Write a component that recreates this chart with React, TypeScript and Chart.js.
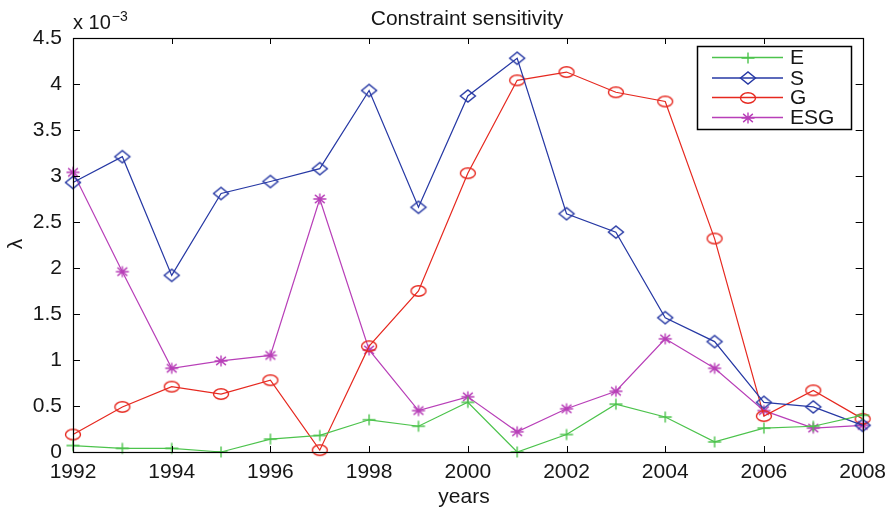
import React, { useEffect, useRef } from "react";
import { Chart, registerables } from "chart.js";

Chart.register(...registerables);

// Lagrange multipliers per year, in units of 1e-3
const years = [1992, 1993, 1994, 1995, 1996, 1997, 1998, 1999, 2000, 2001, 2002, 2003, 2004, 2005, 2006, 2007, 2008];
const seriesE = [0.07, 0.04, 0.04, 0.0, 0.14, 0.18, 0.35, 0.28, 0.54, 0.0, 0.19, 0.52, 0.38, 0.11, 0.26, 0.28, 0.4];
const seriesS = [2.93, 3.21, 1.92, 2.81, 2.94, 3.08, 3.93, 2.66, 3.87, 4.28, 2.59, 2.39, 1.46, 1.2, 0.54, 0.49, 0.29];
const seriesG = [0.19, 0.49, 0.71, 0.63, 0.78, 0.02, 1.15, 1.75, 3.03, 4.04, 4.13, 3.91, 3.81, 2.32, 0.39, 0.67, 0.36];
const seriesESG = [3.04, 1.96, 0.91, 0.99, 1.05, 2.75, 1.11, 0.45, 0.6, 0.22, 0.47, 0.66, 1.23, 0.91, 0.45, 0.26, 0.29];

const seriesNames = ["E", "S", "G", "ESG"];
const seriesColors = ["#4cc34c", "#2638a4", "#e6281f", "#b83fb8"];
const seriesMarkers = ["plus", "diamond", "ellipse", "star"];

const FONT = "'Liberation Sans', Arial, Helvetica, sans-serif";
const INK = "#161616";

// marker sprites, slightly wider than tall
function makeMarker(kind: string, color: string): HTMLCanvasElement {
  const W = 20, H = 16;
  const c = document.createElement("canvas");
  c.width = W;
  c.height = H;
  const ctx = c.getContext("2d")!;
  const cx = W / 2, cy = H / 2;
  const rx = 7.5, ry = 6;
  ctx.strokeStyle = color;
  ctx.lineWidth = 1.4;
  ctx.beginPath();
  if (kind === "plus" || kind === "star") {
    const px = 6.5, py = 5.5;
    ctx.moveTo(cx - px, cy);
    ctx.lineTo(cx + px, cy);
    ctx.moveTo(cx, cy - py);
    ctx.lineTo(cx, cy + py);
    if (kind === "star") {
      const dx = px * 0.75, dy = py * 0.75;
      ctx.moveTo(cx - dx, cy - dy);
      ctx.lineTo(cx + dx, cy + dy);
      ctx.moveTo(cx - dx, cy + dy);
      ctx.lineTo(cx + dx, cy - dy);
    }
  } else if (kind === "diamond") {
    ctx.moveTo(cx - rx, cy);
    ctx.lineTo(cx, cy - ry);
    ctx.lineTo(cx + rx, cy);
    ctx.lineTo(cx, cy + ry);
    ctx.closePath();
  } else {
    ctx.ellipse(cx, cy, rx, ry - 0.8, 0, 0, Math.PI * 2);
  }
  ctx.stroke();
  return c;
}

export default function App() {
  const ref = useRef<HTMLCanvasElement>(null);
  useEffect(() => {
    document.body.style.margin = "0";
    const sprites = seriesMarkers.map((m, i) => makeMarker(m, seriesColors[i]));

    const decorations = {
      id: "decorations",
      afterDraw(chart: any) {
        const { ctx, chartArea: a, scales } = chart;
        const xs = scales.x;
        const ys = scales.y;
        ctx.save();
        ctx.strokeStyle = "#000";
        ctx.lineWidth = 1.2;
        // axes box
        ctx.strokeRect(Math.round(a.left) + 0.5, Math.round(a.top) + 0.5, Math.round(a.right - a.left), Math.round(a.bottom - a.top));
        // inward ticks on all four sides
        ctx.lineWidth = 1;
        ctx.beginPath();
        xs.ticks.forEach((t: any) => {
          const px = Math.round(xs.getPixelForValue(t.value)) + 0.5;
          ctx.moveTo(px, a.bottom);
          ctx.lineTo(px, a.bottom - 6);
          ctx.moveTo(px, a.top);
          ctx.lineTo(px, a.top + 6);
        });
        ys.ticks.forEach((t: any) => {
          const py = Math.round(ys.getPixelForValue(t.value)) + 0.5;
          ctx.moveTo(a.left, py);
          ctx.lineTo(a.left + 7, py);
          ctx.moveTo(a.right, py);
          ctx.lineTo(a.right - 7, py);
        });
        ctx.stroke();

        ctx.fillStyle = INK;
        // title
        ctx.font = `21px ${FONT}`;
        ctx.textAlign = "center";
        ctx.textBaseline = "alphabetic";
        ctx.fillText("Constraint sensitivity", 467, 25);
        // x-axis label
        ctx.fillText("years", 464, 503);
        // exponent
        ctx.textAlign = "left";
        ctx.font = `20px ${FONT}`;
        ctx.fillText("x 10", a.left, 29);
        const w = ctx.measureText("x 10").width;
        ctx.font = `14px ${FONT}`;
        ctx.fillText("\u22123", a.left + w + 1, 21);
        // y-axis label
        ctx.save();
        ctx.translate(22, 244);
        ctx.rotate(-Math.PI / 2);
        ctx.textAlign = "center";
        ctx.font = `21px ${FONT}`;
        ctx.fillText("\u03bb", 0, 0);
        ctx.restore();

        // legend
        const lx = 697.5, ly = 46.5, lw = 154, lh = 83;
        ctx.fillStyle = "#fff";
        ctx.fillRect(lx, ly, lw, lh);
        ctx.strokeStyle = "#000";
        ctx.lineWidth = 1.5;
        ctx.strokeRect(lx, ly, lw, lh);
        const rowsY = [57.5, 78, 97.5, 117.5];
        seriesNames.forEach((name, i) => {
          const y = rowsY[i];
          ctx.strokeStyle = seriesColors[i];
          ctx.lineWidth = 1.6;
          ctx.beginPath();
          ctx.moveTo(712, y);
          ctx.lineTo(783, y);
          ctx.stroke();
          const s = sprites[i];
          ctx.drawImage(s, Math.round(747.5 - s.width / 2), Math.round(y - s.height / 2));
          ctx.fillStyle = INK;
          ctx.font = `21px ${FONT}`;
          ctx.textAlign = "left";
          ctx.textBaseline = "middle";
          ctx.fillText(name, 790, y + 1);
        });
        ctx.restore();
      },
    };

    const all = [seriesE, seriesS, seriesG, seriesESG];
    const chart = new Chart(ref.current!, {
      type: "line",
      data: {
        labels: years,
        datasets: all.map((vals, i) => ({
          label: seriesNames[i],
          data: vals.map((v, j) => ({ x: years[j], y: v })),
          borderColor: seriesColors[i],
          backgroundColor: "rgba(0,0,0,0)",
          borderWidth: 1.2,
          pointStyle: sprites[i] as any,
          pointRadius: 6,
          tension: 0,
          fill: false,
          clip: false as any,
        })),
      },
      options: {
        animation: false,
        responsive: false,
        maintainAspectRatio: false,
        layout: { padding: { top: 38, right: 31, left: 0, bottom: 0 } },
        plugins: { legend: { display: false }, title: { display: false }, tooltip: { enabled: false } },
        scales: {
          x: {
            type: "linear",
            min: 1992,
            max: 2008,
            grid: { display: false, drawTicks: false },
            border: { display: true, color: "#000", width: 1 },
            ticks: { stepSize: 2, padding: 8, color: INK, font: { family: FONT, size: 21 }, callback: (v: any) => String(v), maxRotation: 0, autoSkip: false },
            afterFit: (s: any) => { s.height = 61; },
          },
          y: {
            min: 0,
            max: 4.5,
            grid: { display: false, drawTicks: false },
            border: { display: true, color: "#000", width: 1 },
            ticks: { stepSize: 0.5, padding: 11, color: INK, font: { family: FONT, size: 21 }, callback: (v: any) => String(Number(v)) },
            afterFit: (s: any) => { s.width = 73; },
          },
        },
      },
      plugins: [decorations],
    });
    return () => chart.destroy();
  }, []);
  return (
    <div style={{ position: "absolute", left: 0, top: 0, width: 894, height: 513, background: "#fff" }}>
      <canvas ref={ref} width={894} height={513} style={{ width: 894, height: 513 }} />
    </div>
  );
}
